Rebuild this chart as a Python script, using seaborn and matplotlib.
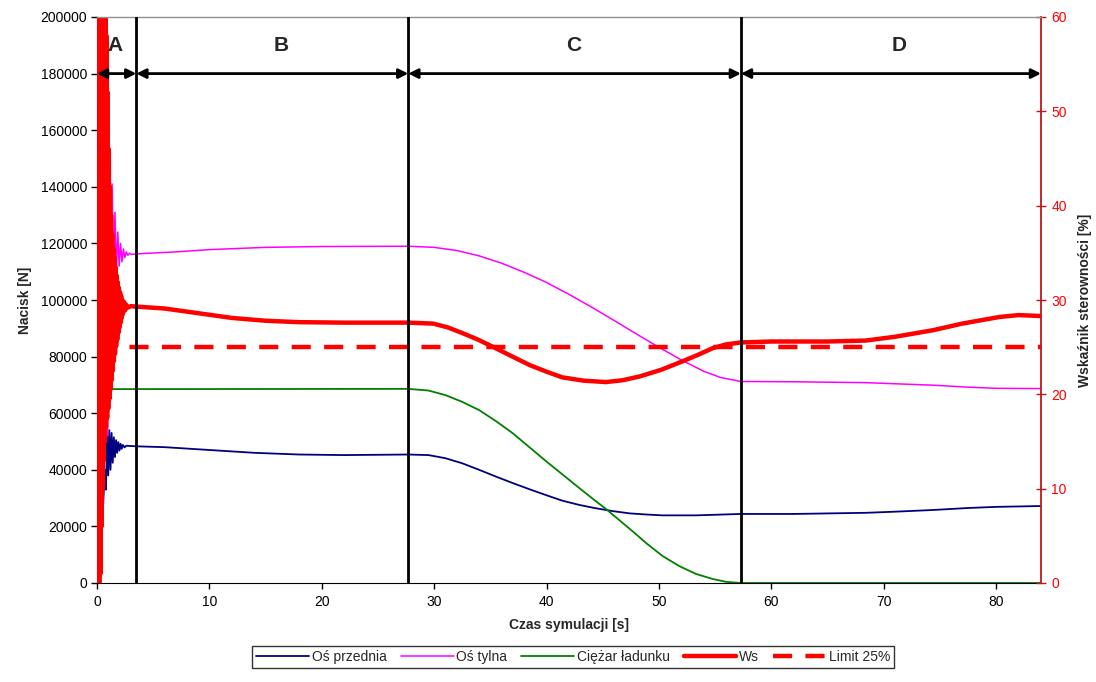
import matplotlib
matplotlib.use("Agg")
import matplotlib.pyplot as plt
import pandas as pd
import seaborn as sns

# values
# front axle load [N]
front_t = [0.0, 0.25, 0.45, 0.7, 0.8, 0.9, 1.0, 1.1, 1.2, 1.3, 1.4, 1.5, 1.6, 1.7, 1.8, 1.9, 2.0,
           2.1, 2.2, 2.3, 2.45, 2.6, 3.5, 6, 10, 14, 18, 22, 27.7, 29.5, 31, 32.5, 34, 35.5, 37,
           38.5, 40, 41.4, 42.9, 44.4, 45.9, 47.4, 48.9, 50.3, 53.3, 57.3, 62, 68.4, 71, 74.4,
           77.5, 80, 84]
front_n = [0, 45000, 20000, 40000, 33000, 55000, 38000, 54000, 40000, 53000, 42500, 51500, 44500,
           50500, 46000, 49800, 46800, 49200, 47400, 48800, 47900, 48500, 48300, 48000, 47000,
           46000, 45400, 45200, 45400, 45200, 44100, 42300, 40000, 37600, 35300, 33100, 31000,
           29100, 27600, 26400, 25400, 24600, 24200, 23900, 23900, 24400, 24400, 24800, 25200,
           25800, 26500, 26900, 27200]

# rear axle load [N]
rear_t = [0.0, 0.2, 0.45, 0.7, 0.95, 1.08, 1.22, 1.34, 1.47, 1.6, 1.72, 1.85, 1.97, 2.1, 2.22,
          2.35, 2.48, 2.6, 2.75, 2.9, 3.1, 3.5, 7, 10, 15, 20, 27.7, 30, 32, 34, 36, 38, 40, 42,
          44, 46, 48, 50, 52, 54, 55.5, 57.3, 62, 68.4, 71, 74.4, 77.5, 80, 84]
rear_n = [0, 210000, 20000, 210000, 52000, 161000, 95000, 141000, 108000, 131000, 110000, 124000,
          112000, 120000, 113500, 118000, 115000, 117000, 115800, 116500, 116100, 116300, 117000,
          117800, 118600, 118900, 119000, 118600, 117500, 115600, 113000, 109800, 106200, 102000,
          97500, 92800, 88000, 83300, 78800, 74800, 72600, 71200, 71100, 70800, 70400, 69900,
          69200, 68800, 68700]

# cargo weight [N]
load_t = [0.0, 27.7, 29.5, 31, 32.5, 34, 35.5, 37, 38.5, 40, 41.5, 42.9, 44.2, 45.4, 46.6, 47.8,
          48.9, 50.3, 51.8, 53.3, 54.8, 56, 57.3, 84]
load_n = [68500, 68600, 68000, 66400, 64000, 61100, 57200, 52900, 47900, 42900, 38100, 33600,
          29500, 25800, 21800, 17800, 14000, 9600, 6000, 3200, 1400, 400, 0, 0]

# steerability index Ws [%]
ws_t = [0.0, 0.05, 0.1, 0.15, 0.2, 0.25, 0.3, 0.35, 0.4, 0.45, 0.5, 0.55, 0.6, 0.65, 0.7, 0.75,
        0.8, 0.85, 0.9, 0.95, 1.0, 1.05, 1.1, 1.15, 1.2, 1.25, 1.3, 1.35, 1.4, 1.45, 1.5, 1.55,
        1.6, 1.65, 1.7, 1.75, 1.8, 1.85, 1.9, 1.95, 2.0, 2.05, 2.1, 2.15, 2.2, 2.25, 2.3, 2.4,
        2.5, 2.6, 2.75, 3.0, 3.5, 6, 9, 12, 15, 18, 22, 27.7, 29.9, 31.2, 32.5, 33.9, 35.2, 36.8,
        38.5, 40, 41.4, 43.3, 45.3, 46.8, 48.3, 50.2, 52.1, 53.5, 54.8, 56, 57.3, 60, 65, 68.4,
        71, 74.4, 77, 80.3, 82, 84]
ws_pct = [0, 62, 0, 62, 0, 62, 1, 62, 6, 62, 10, 62, 13, 62, 15, 62, 16.5, 58, 17.5, 52, 18.5,
          46, 19.5, 42, 20.5, 39, 21.5, 37, 22.5, 35.5, 23.5, 34.5, 24.3, 33.5, 25.1, 32.6, 25.8,
          31.9, 26.5, 31.3, 27.1, 30.8, 27.6, 30.4, 28.1, 30.0, 28.5, 29.8, 28.9, 29.5, 29.2,
          29.35, 29.3, 29.1, 28.6, 28.1, 27.8, 27.65, 27.6, 27.6, 27.5, 27.1, 26.5, 25.8, 25.05,
          24.1, 23.1, 22.4, 21.8, 21.45, 21.3, 21.5, 21.9, 22.6, 23.5, 24.2, 24.9, 25.3, 25.5,
          25.6, 25.6, 25.7, 26.1, 26.8, 27.5, 28.2, 28.4, 28.3]

limit_t = [0, 84]
limit_pct = [25, 25]

phase_bounds = [0, 3.5, 27.7, 57.3, 84]
phase_names = ["A", "B", "C", "D"]
phase_label_t = [1.6, 16.4, 42.4, 71.4]

sns.set_style("white")
plt.rcParams["font.family"] = ["Liberation Sans", "DejaVu Sans"]
plt.rcParams["font.size"] = 10

fig = plt.figure(figsize=(10.96, 6.82), dpi=100)
ax = fig.add_axes([97 / 1096, 99 / 682, 944 / 1096, 566 / 682])
ax2 = ax.twinx()

sns.lineplot(x=front_t, y=front_n, ax=ax, color="#000080", lw=1.3, estimator=None,
             sort=False, label="Oś przednia", legend=False)
sns.lineplot(x=rear_t, y=rear_n, ax=ax, color="#FF00FF", lw=1.1, estimator=None,
             sort=False, label="Oś tylna", legend=False)
sns.lineplot(x=load_t, y=load_n, ax=ax, color="#008000", lw=1.3, estimator=None,
             sort=False, label="Ciężar ładunku", legend=False)
sns.lineplot(x=ws_t, y=ws_pct, ax=ax2, color="#FF0000", lw=3.2, estimator=None,
             sort=False, label="Ws", legend=False)
sns.lineplot(x=limit_t, y=limit_pct, ax=ax2, color="#FF0000", lw=3.2, estimator=None,
             sort=False, label="Limit 25%", legend=False)
ax2.lines[-1].set_linestyle((0, (4.3, 3.0)))
ax2.lines[-1].set_dash_capstyle("butt")

ax.set_xlim(0, 84)
ax.set_ylim(0, 200000)
ax2.set_ylim(0, 60)
ax.set_xticks(range(0, 81, 10))
ax.set_yticks(range(0, 200001, 20000))
ax2.set_yticks(range(0, 61, 10))

# phase borders and arrows
for b in phase_bounds[1:-1]:
    ax2.axvline(b, color="black", lw=2, zorder=5)
for i, name in enumerate(phase_names):
    ax2.annotate("", xy=(phase_bounds[i], 0.9), xytext=(phase_bounds[i + 1], 0.9),
                 xycoords=("data", "axes fraction"), textcoords=("data", "axes fraction"),
                 arrowprops=dict(arrowstyle="<|-|>", color="black", lw=2,
                                 mutation_scale=14, shrinkA=0, shrinkB=0), zorder=6)
    ax2.text(phase_label_t[i], 0.95, name, transform=ax2.get_xaxis_transform(),
             ha="center", va="center", fontsize=15, fontweight="bold", zorder=6)

ax.set_xlabel("Czas symulacji [s]", fontweight="bold", fontsize=10, labelpad=6)
ax.set_ylabel("Nacisk [N]", fontweight="bold", fontsize=10, labelpad=6)
ax2.set_ylabel("Wskaźnik sterowności [%]", fontweight="bold", fontsize=10, labelpad=8)

ax.tick_params(axis="both", direction="out", length=4, width=1, colors="black", labelsize=10)
ax.tick_params(axis="x", bottom=True, pad=5)
ax.tick_params(axis="y", left=True, pad=3)
ax2.tick_params(axis="y", direction="inout", length=7, width=1, color="#C01818",
                labelcolor="#FF0000", labelsize=10, pad=4)

for sp in ["top", "right"]:
    ax.spines[sp].set_visible(False)
ax.spines["left"].set_color("#404040")
ax.spines["bottom"].set_color("black")
for sp in ["left", "bottom"]:
    ax2.spines[sp].set_visible(False)
ax2.spines["top"].set_color("#909090")
ax2.spines["top"].set_linewidth(1)
ax2.spines["right"].set_color("#C01818")
ax2.spines["right"].set_linewidth(1.3)

handles = ax.get_lines()[:3] + ax2.get_lines()[:2]
labels = ["Oś przednia", "Oś tylna", "Ciężar ładunku", "Ws", "Limit 25%"]
leg = ax2.legend(handles, labels, loc="lower center", bbox_to_anchor=(0.523, 0.01),
                 bbox_transform=fig.transFigure, ncol=5, frameon=True, fancybox=False,
                 edgecolor="black", handlelength=3.8, handletextpad=0.2, columnspacing=1.0,
                 borderpad=0.3, fontsize=10)
leg.get_frame().set_linewidth(1)

fig.savefig("out.png", dpi=100)
